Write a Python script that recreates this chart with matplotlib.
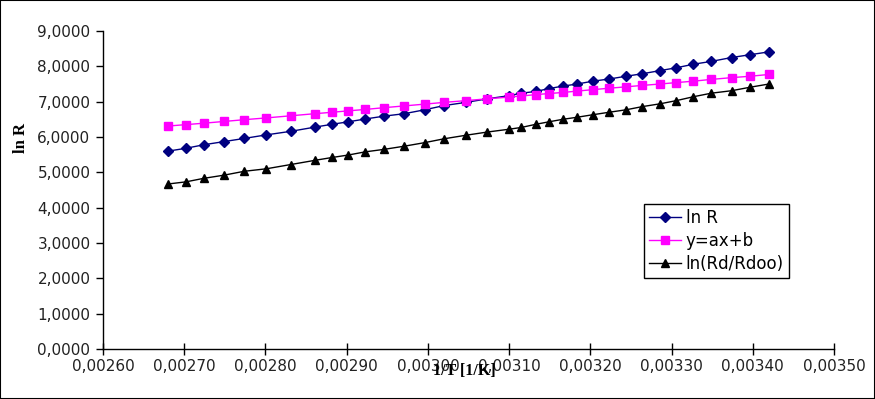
import matplotlib
matplotlib.use("Agg")
import matplotlib.pyplot as plt
import matplotlib.patches as patches
from matplotlib.ticker import FuncFormatter, MultipleLocator

# 1/T [1/K]
inv_t = [0.002680, 0.002702, 0.002724, 0.002749, 0.002774, 0.002801, 0.002831,
         0.002861, 0.002882, 0.002902, 0.002923, 0.002946, 0.002971, 0.002996,
         0.003020, 0.003047, 0.003073, 0.003100, 0.003115, 0.003133, 0.003149,
         0.003166, 0.003184, 0.003203, 0.003223, 0.003244, 0.003264, 0.003286,
         0.003306, 0.003327, 0.003349, 0.003374, 0.003397, 0.003420]

ln_r = [5.60, 5.68, 5.78, 5.87, 5.96, 6.06, 6.16, 6.28, 6.36, 6.43, 6.51, 6.59,
        6.66, 6.77, 6.89, 6.98, 7.08, 7.17, 7.24, 7.29, 7.37, 7.44, 7.50, 7.58,
        7.64, 7.72, 7.79, 7.88, 7.96, 8.06, 8.14, 8.25, 8.33, 8.41]

fit = [6.31, 6.35, 6.39, 6.44, 6.49, 6.54, 6.60, 6.66, 6.70, 6.74, 6.78, 6.83,
       6.88, 6.93, 6.98, 7.03, 7.08, 7.13, 7.16, 7.20, 7.23, 7.26, 7.30, 7.34,
       7.38, 7.42, 7.46, 7.50, 7.54, 7.58, 7.63, 7.68, 7.72, 7.77]

ln_rd = [4.67, 4.73, 4.83, 4.92, 5.03, 5.10, 5.22, 5.34, 5.42, 5.49, 5.58, 5.65,
         5.74, 5.84, 5.95, 6.05, 6.14, 6.22, 6.27, 6.36, 6.43, 6.50, 6.56, 6.63,
         6.70, 6.77, 6.86, 6.94, 7.03, 7.14, 7.24, 7.31, 7.41, 7.50]

labels = ["ln R", "y=ax+b", "ln(Rd/Rdoo)"]

W, H = 875, 399
fig = plt.figure(figsize=(W / 100, H / 100), dpi=100)
ax = fig.add_axes([103 / W, 1 - 349 / H, (834 - 103) / W, (349 - 31) / H])

ax.plot(inv_t, ln_r, color="#000080", lw=1, marker="D", ms=5,
        mfc="#000080", mec="#000080", label=labels[0])
ax.plot(inv_t, fit, color="#ff00ff", lw=1, marker="s", ms=6,
        mfc="#ff00ff", mec="#ff00ff", label=labels[1])
ax.plot(inv_t, ln_rd, color="black", lw=1, marker="^", ms=6,
        mfc="black", mec="black", label=labels[2])

ax.set_xlim(0.0026, 0.0035)
ax.set_ylim(0, 9)
ax.xaxis.set_major_locator(MultipleLocator(0.0001))
ax.yaxis.set_major_locator(MultipleLocator(1))
ax.xaxis.set_major_formatter(FuncFormatter(lambda v, p: f"{v:.5f}".replace(".", ",")))
ax.yaxis.set_major_formatter(FuncFormatter(lambda v, p: f"{v:.4f}".replace(".", ",")))

for s in ["top", "right"]:
    ax.spines[s].set_visible(False)
for s in ["left", "bottom"]:
    ax.spines[s].set_linewidth(1)

ax.tick_params(axis="y", direction="out", length=5, width=1, pad=4,
               labelsize=11, labelcolor="#222222")
ax.tick_params(axis="x", direction="inout", length=8, width=1, pad=3,
               labelsize=11, labelcolor="#222222")

fig.text(464 / W, 1 - 371 / H, "1/T [1/K]", ha="center", va="center",
         family="Liberation Serif", weight="bold", fontsize=11.5)
fig.text(21 / W, 1 - 138 / H, "ln R", ha="center", va="center", rotation=90,
         family="Liberation Serif", weight="bold", fontsize=12)

leg = ax.legend(loc="upper left", bbox_to_anchor=(644 / W, 1 - 204 / H),
                bbox_transform=fig.transFigure, borderaxespad=0,
                fontsize=12, fancybox=False, framealpha=1, edgecolor="black",
                handlelength=1.9, handletextpad=0.3, labelspacing=0.3,
                borderpad=0.3)
leg.get_frame().set_linewidth(1)

fig.patches.append(patches.Rectangle((0, 0), 1, 1, transform=fig.transFigure,
                                     fill=False, edgecolor="black", lw=1.5))

fig.savefig("out.png", dpi=100)
